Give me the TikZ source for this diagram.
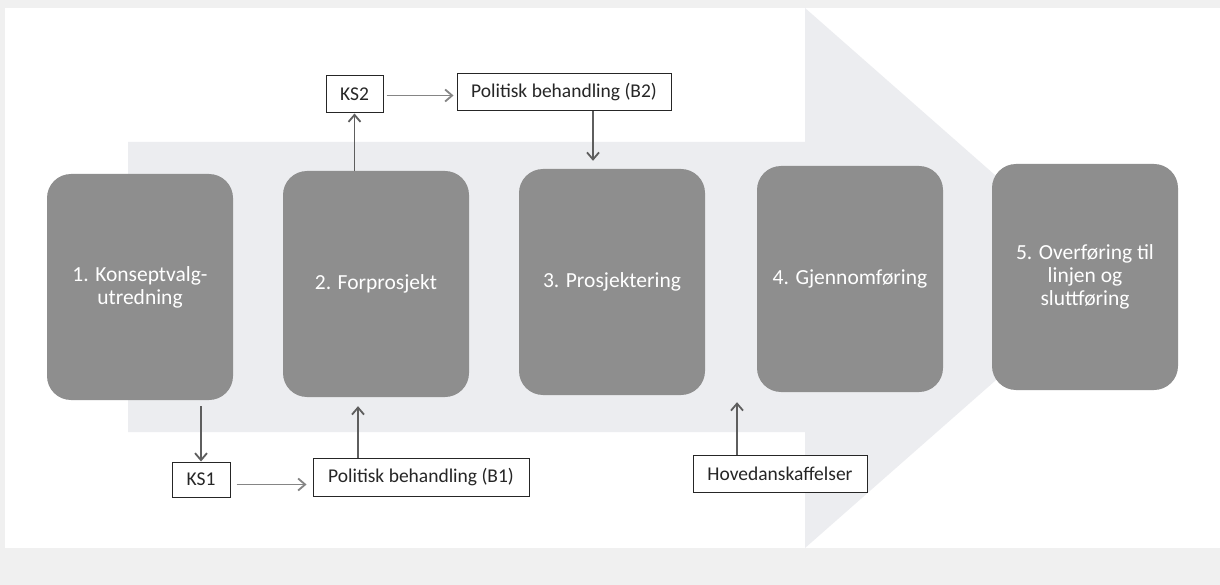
\documentclass[tikz,border=0pt]{standalone}
\usepackage{fontspec}
\setmainfont{Carlito}
\usetikzlibrary{arrows.meta}
\definecolor{bandgray}{HTML}{F0F0F0}
\definecolor{arrowbg}{HTML}{ECEDF0}
\definecolor{stepgray}{HTML}{8E8E8E}
\definecolor{linkgray}{HTML}{5E5E5E}
\definecolor{hlinkgray}{HTML}{858585}
\begin{document}
\begin{tikzpicture}[x=1pt,y=-1pt,
  phase/.style={fill=stepgray, rounded corners=24pt, text=white,
    font=\fontsize{21.5}{23}\selectfont, align=center,
    minimum width=186pt, minimum height=226pt, inner sep=0pt},
  gate/.style={draw=black!85, line width=1pt, fill=white, text=black!85,
    font=\fontsize{19.5}{22}\selectfont, inner sep=0pt, minimum height=37pt},
  link/.style={draw=linkgray, line width=1.8pt,
    -{Straight Barb[length=7pt,width=12pt,line width=1.8pt]}},
  hlink/.style={link, draw=hlinkgray}]
\useasboundingbox (0,0) rectangle (1220,585);
\fill[bandgray] (0,0) rectangle (1220,585);
\fill[white] (5,8) rectangle (1220,548);
% big background arrow
\fill[arrowbg] (128,142) -- (805,142) -- (805,8) -- (1112,278) -- (805,548)
  -- (805,432) -- (128,432) -- cycle;
% phases
\node[phase] (p1) at (140,287) {1. Konseptvalg-\\utredning};
\node[phase] (p2) at (376,284) {2. Forprosjekt};
\node[phase] (p3) at (612,282) {3. Prosjektering};
\node[phase] (p4) at (850,279) {4. Gjennomføring};
\node[phase] (p5) at (1085,277) {5. Overføring til\\linjen og\\sluttføring};
% gates
\node[gate, minimum width=57pt] (ks2) at (354.5,94.5) {KS2};
\node[gate, minimum width=214pt] (pb2) at (564,92) {Politisk behandling (B2)};
\node[gate, minimum width=58pt, minimum height=35pt] (ks1) at (201,479.5) {KS1};
\node[gate, minimum width=216pt, minimum height=38pt] (pb1) at (421,477) {Politisk behandling (B1)};
\node[gate, minimum width=174pt] (hv) at (780,473.5) {Hovedanskaffelser};
% x positions of vertical connectors
\coordinate (xa) at (593,0);
\coordinate (xb) at (358,0);
\coordinate (xc) at (737,0);
% connectors
\draw[link] (p2.north -| ks2.south) -- (ks2.south);
\draw[hlink] ([xshift=3pt,yshift=-1pt]ks2.east) -- ([xshift=-3pt,yshift=-1pt]ks2.east -| pb2.west);
\draw[link] (pb2.south -| xa) -- ([yshift=8pt]p3.north -| xa);
\draw[link] ([yshift=-6pt]p1.south -| ks1.north) -- (ks1.north);
\draw[hlink] ([xshift=6pt,yshift=-5pt]ks1.east) -- ([xshift=-6pt,yshift=-5pt]ks1.east -| pb1.west);
\draw[link] (pb1.north -| xb) -- ([yshift=-9pt]p2.south -| xb);
\draw[link] (hv.north -| xc) -- ([yshift=-10pt]p4.south -| xc);
\end{tikzpicture}
\end{document}
